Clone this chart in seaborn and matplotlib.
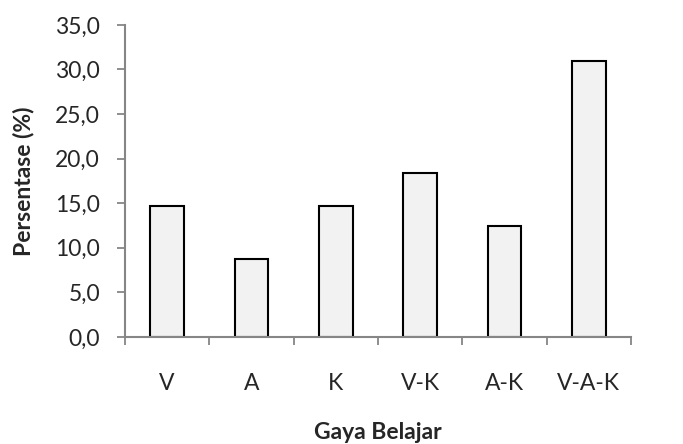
import matplotlib
matplotlib.use("Agg")
import matplotlib.pyplot as plt
import seaborn as sns
import pandas as pd
import numpy as np

categories = ["V", "A", "K", "V-K", "A-K", "V-A-K"]
values = [14.7, 8.8, 14.7, 18.4, 12.5, 30.9]
yticks = [0, 5, 10, 15, 20, 25, 30, 35]

sns.set_style("white")
plt.rcParams['font.family'] = ['Lato', 'DejaVu Sans']

df = pd.DataFrame({"Gaya Belajar": categories, "Persentase": values})

fs = 16.5
fig = plt.figure(figsize=(6.83, 4.44), dpi=100)
ax = fig.add_axes([0.183, 0.241, 0.741, 0.703])
sns.barplot(data=df, x="Gaya Belajar", y="Persentase", ax=ax, width=0.4,
            color="#f2f2f2", edgecolor="black", linewidth=1.5, saturation=1)

ax.set_xlim(-0.5, len(categories) - 0.5)
ax.set_ylim(0, 35)
ax.set_yticks(yticks)
ax.set_yticklabels([f"{t:.1f}".replace(".", ",") for t in yticks], fontsize=fs)
ax.set_xticks(np.arange(len(categories)))
ax.set_xticklabels(categories, fontsize=fs)
ax.set_xticks(np.arange(-0.5, len(categories)), minor=True)
ax.tick_params(axis='x', which='major', length=0, pad=26)
ax.tick_params(axis='x', which='minor', length=6, width=1.3, color="#868686", direction='out', bottom=True)
ax.tick_params(axis='y', length=6, width=1.3, color="#868686", direction='out', left=True, pad=12)
for s in ["top", "right"]:
    ax.spines[s].set_visible(False)
for s in ["left", "bottom"]:
    ax.spines[s].set_color("#868686")
    ax.spines[s].set_linewidth(1.5)
ax.set_xlabel("Gaya Belajar", fontsize=fs, fontweight="bold", labelpad=20)
ax.set_ylabel("Persentase (%)", fontsize=fs, fontweight="bold", labelpad=15)

fig.savefig("out.png", dpi=100)
